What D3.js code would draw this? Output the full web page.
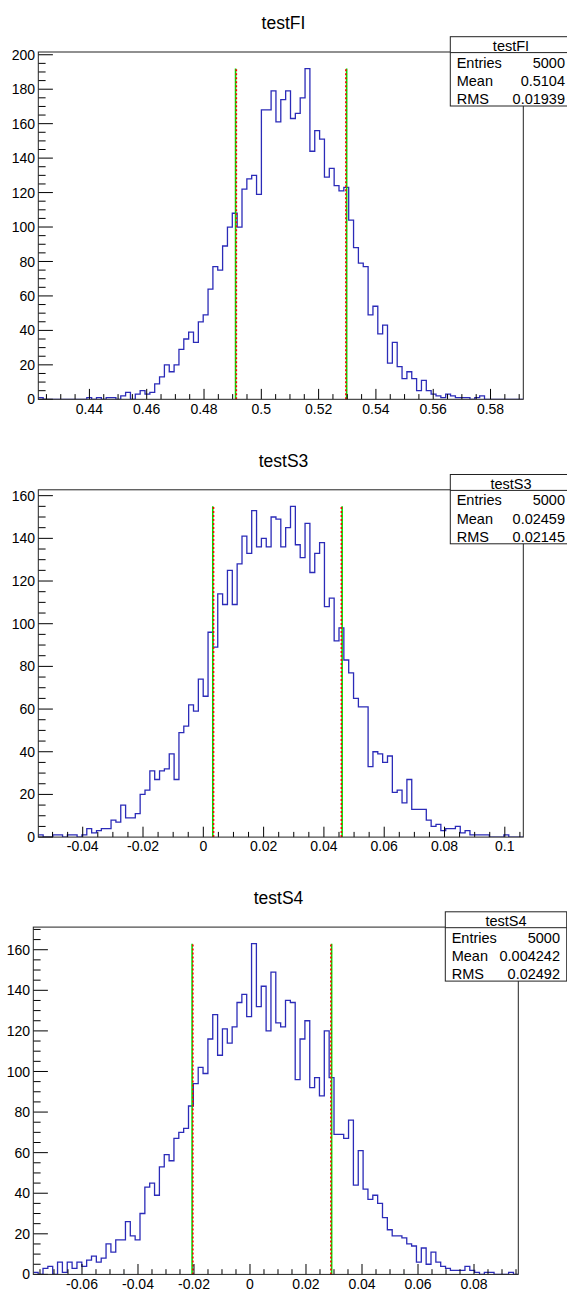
<!DOCTYPE html>
<html>
<head>
<meta charset="utf-8">
<script src="https://cdn.jsdelivr.net/npm/d3@7"></script>
<style>
  body { margin: 0; background: #fff; }
  svg { display: block; }
  text { font-family: "Liberation Sans", Arial, Helvetica, sans-serif; fill: #000; }
</style>
</head>
<body>
<svg id="canvas" width="567" height="1290"></svg>
<script>
// ---- histogram names and statistics ----
const histNames = ["testFI", "testS3", "testS4"];
const entryLabels = ["5000", "5000", "5000"];
const meanValues = [0.5104, 0.02459, 0.004242];
const meanLabels = ["0.5104", "0.02459", "0.004242"];
const rmsValues = [0.01939, 0.02145, 0.02492];
const rmsLabels = ["0.01939", "0.02145", "0.02492"];
// half-width of the red (dashed) band around the mean
const bandHalfWidths = [0.01912, 0.02120, 0.02465];

// ---- axis ranges (100 equal bins span each range) ----
const xRanges = [[0.42216, 0.59144], [-0.05473, 0.10613], [-0.07739, 0.09582]];
const xTickLabels = [
  ["0.44", "0.46", "0.48", "0.5", "0.52", "0.54", "0.56", "0.58"],
  ["-0.04", "-0.02", "0", "0.02", "0.04", "0.06", "0.08", "0.1"],
  ["-0.06", "-0.04", "-0.02", "0", "0.02", "0.04", "0.06", "0.08"]
];
const yTickLabels = [
  ["0", "20", "40", "60", "80", "100", "120", "140", "160", "180", "200"],
  ["0", "20", "40", "60", "80", "100", "120", "140", "160"],
  ["0", "20", "40", "60", "80", "100", "120", "140", "160"]
];

// ---- bin contents ----
const countsFI = [
  1,0,0,0,0,0,0,0,0,0,
  1,0,1,0,1,1,0,2,4,0,
  3,5,3,4,9,13,20,16,20,29,
  35,39,33,45,49,64,77,75,89,100,
  108,100,122,128,130,119,168,168,179,161,
  174,179,163,166,175,192,144,156,151,129,
  134,124,121,123,104,88,79,77,49,54,
  38,43,21,33,19,12,16,12,5,11,
  5,3,2,1,3,2,1,1,1,0,
  1,2,0,0,0,0,0,0,0,0
];
const countsS3 = [
  1,0,0,1,1,0,1,1,0,1,
  4,2,3,4,4,8,7,15,9,9,
  11,20,22,31,27,31,32,39,27,49,
  52,62,59,74,66,96,89,114,109,125,
  109,128,141,133,153,136,140,136,150,149,
  136,145,155,137,131,147,124,133,138,108,
  112,92,98,83,77,65,61,61,33,40,
  39,35,38,21,22,16,27,13,13,13,
  8,5,6,3,4,4,5,2,3,1,
  1,1,1,0,0,0,1,0,0,0
];
const countsS4 = [
  1,0,3,4,0,6,1,6,3,6,
  4,7,9,6,8,15,11,17,17,26,
  19,17,30,43,45,39,53,59,56,67,
  70,72,83,94,102,99,116,128,108,121,
  114,122,134,138,127,163,132,142,120,149,
  124,122,135,134,96,116,125,92,97,88,
  120,97,69,69,67,76,44,61,42,37,
  39,35,28,22,19,19,18,15,14,6,
  13,5,11,6,4,3,2,2,2,4,
  2,1,0,1,1,0,0,0,1,0
];
const allCounts = [countsFI, countsS3, countsS4];

// ---- pad geometry ----
const padOffsets = [[0, 0], [0, 437.8], [-5, 875.1]];
const frame = { left: 38.3, right: 523.3, top: 52, bottom: 399.3 };
const xMinorStep = 0.005, xMajorEvery = 4;
const yMinorStep = 5, yMajorEvery = 4;
const xTickMajor = 10.4, xTickMinor = 5.2;
const yTickMajor = 14.6, yTickMinor = 7.3;
const histColor = "#2b2bb8";

const svg = d3.select("#canvas");

histNames.forEach((name, p) => {
  const counts = allCounts[p];
  const [xmin, xmax] = xRanges[p];
  const nBins = counts.length;
  const binW = (xmax - xmin) / nBins;
  const maxCount = d3.max(counts);
  const ymax = 1.05 * maxCount;

  const g = svg.append("g")
    .attr("transform", `translate(${padOffsets[p][0]},${padOffsets[p][1]})`);

  const x = d3.scaleLinear().domain([xmin, xmax]).range([frame.left, frame.right]);
  const y = d3.scaleLinear().domain([0, ymax]).range([frame.bottom, frame.top]);

  // title
  g.append("text")
    .attr("x", (frame.left + frame.right) / 2 + 2.7)
    .attr("y", 29.3)
    .attr("text-anchor", "middle")
    .style("font-size", "17.5px")
    .text(name);

  // clip for the histogram outline
  const clipId = "clip" + p;
  g.append("clipPath").attr("id", clipId)
    .append("rect")
    .attr("x", frame.left).attr("y", frame.top)
    .attr("width", frame.right - frame.left)
    .attr("height", frame.bottom - frame.top);

  // histogram outline as a step path
  const bins = counts.map((c, i) => ({ x0: xmin + i * binW, x1: xmin + (i + 1) * binW, c }));
  let d = `M${x(bins[0].x0)},${y(bins[0].c)}`;
  bins.forEach((b, i) => {
    if (i > 0) d += `V${y(b.c)}`;
    d += `H${x(b.x1)}`;
  });
  g.append("path")
    .attr("clip-path", `url(#${clipId})`)
    .attr("d", d)
    .attr("fill", "none")
    .attr("stroke", histColor)
    .attr("stroke-width", 1.3);

  // mean ± RMS (green) and inner band (red dashed)
  const greenX = [meanValues[p] - rmsValues[p], meanValues[p] + rmsValues[p]];
  const redX = [meanValues[p] - bandHalfWidths[p], meanValues[p] + bandHalfWidths[p]];
  g.selectAll(".green").data(greenX).enter().append("line")
    .attr("x1", v => x(v)).attr("x2", v => x(v))
    .attr("y1", y(0)).attr("y2", y(maxCount))
    .attr("stroke", "#00e000").attr("stroke-width", 1.6);
  g.selectAll(".red").data(redX).enter().append("line")
    .attr("x1", v => x(v)).attr("x2", v => x(v))
    .attr("y1", y(0)).attr("y2", y(maxCount))
    .attr("stroke", "#ff0000").attr("stroke-width", 1.6)
    .attr("stroke-dasharray", "2,2");

  // x axis ticks
  const kx0 = Math.ceil(xmin / xMinorStep - 1e-9), kx1 = Math.floor(xmax / xMinorStep + 1e-9);
  const xTicks = d3.range(kx0, kx1 + 1).map(k => ({ v: k * xMinorStep, major: ((k % xMajorEvery) + xMajorEvery) % xMajorEvery === 0 }));
  g.selectAll(".xt").data(xTicks).enter().append("line")
    .attr("x1", t => x(t.v)).attr("x2", t => x(t.v))
    .attr("y1", frame.bottom)
    .attr("y2", t => frame.bottom - (t.major ? xTickMajor : xTickMinor))
    .attr("stroke", "#000").attr("stroke-width", 1);
  const xMajors = xTicks.filter(t => t.major);
  g.selectAll(".xl").data(xMajors).enter().append("text")
    .attr("x", t => x(t.v))
    .attr("y", frame.bottom + 14.2)
    .attr("text-anchor", "middle")
    .style("font-size", "14px")
    .text((t, i) => xTickLabels[p][i]);

  // y axis ticks
  const ky1 = Math.floor(ymax / yMinorStep + 1e-9);
  const yTicks = d3.range(0, ky1 + 1).map(k => ({ v: k * yMinorStep, major: k % yMajorEvery === 0 }));
  g.selectAll(".yt").data(yTicks).enter().append("line")
    .attr("x1", frame.left)
    .attr("x2", t => frame.left + (t.major ? yTickMajor : yTickMinor))
    .attr("y1", t => y(t.v)).attr("y2", t => y(t.v))
    .attr("stroke", "#000").attr("stroke-width", 1);
  const yMajors = yTicks.filter(t => t.major);
  g.selectAll(".yl").data(yMajors).enter().append("text")
    .attr("x", frame.left - 3.2)
    .attr("y", t => y(t.v))
    .attr("dy", "0.36em")
    .attr("text-anchor", "end")
    .style("font-size", "14px")
    .text((t, i) => yTickLabels[p][i]);

  // frame
  g.append("rect")
    .attr("x", frame.left).attr("y", frame.top)
    .attr("width", frame.right - frame.left)
    .attr("height", frame.bottom - frame.top)
    .attr("fill", "none").attr("stroke", "#222").attr("stroke-width", 1);

  // statistics box
  const box = { left: 450.3, top: 36.7, width: 121.4, height: 69.3, header: 15.9 };
  const sb = g.append("g");
  sb.append("rect")
    .attr("x", box.left).attr("y", box.top)
    .attr("width", box.width).attr("height", box.height)
    .attr("fill", "#fff").attr("stroke", "#222").attr("stroke-width", 1);
  sb.append("line")
    .attr("x1", box.left).attr("x2", box.left + box.width)
    .attr("y1", box.top + box.header).attr("y2", box.top + box.header)
    .attr("stroke", "#222").attr("stroke-width", 1);
  sb.append("text")
    .attr("x", box.left + box.width / 2)
    .attr("y", box.top + 14.3)
    .attr("text-anchor", "middle")
    .style("font-size", "14.5px")
    .text(name);
  const rows = [["Entries", entryLabels[p]], ["Mean", meanLabels[p]], ["RMS", rmsLabels[p]]];
  rows.forEach((r, i) => {
    const by = box.top + 31 + i * 18.1;
    sb.append("text").attr("x", box.left + 6.4).attr("y", by)
      .style("font-size", "14.5px").text(r[0]);
    sb.append("text").attr("x", box.left + box.width - 6.7).attr("y", by)
      .attr("text-anchor", "end").style("font-size", "14.5px").text(r[1]);
  });
});
</script>
</body>
</html>
